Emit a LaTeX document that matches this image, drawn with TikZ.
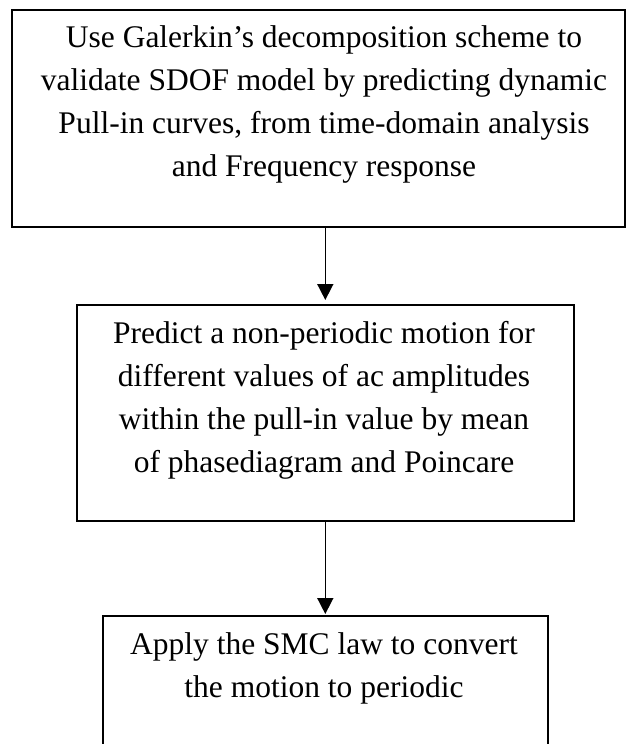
\documentclass[tikz,border=0pt]{standalone}
\usepackage{fontspec}
\setmainfont{Liberation Serif}
\usetikzlibrary{arrows.meta}
\begin{document}
\begin{tikzpicture}[x=1pt,y=-1pt,
  boxstyle/.style={draw,line width=1.6pt,inner sep=0pt,anchor=north west},
  txt/.style={anchor=base,align=center,inner sep=0pt,font=\fontsize{31.5}{43}\selectfont},
  conn/.style={line width=1.6pt,-{Triangle[length=16pt,width=16pt]}}]
\useasboundingbox (0,0) rectangle (627,744);
\clip (0,0) rectangle (627,744);
\node[boxstyle,minimum width=613pt,minimum height=217pt] (b1) at (11,9) {};
\node[boxstyle,minimum width=497pt,minimum height=216pt] (b2) at (76,304) {};
\node[boxstyle,minimum width=445pt,minimum height=140pt] (b3) at (102,615) {};
\node[txt] (t1) at (324,176) {Use Galerkin’s decomposition scheme to\\validate SDOF model by predicting dynamic\\Pull-in curves, from time-domain analysis\\and Frequency response};
\node[txt] (t2) at (324,472) {Predict a non-periodic motion for\\different values of ac amplitudes\\within the pull-in value by mean\\of phasediagram and Poincare};
\node[txt] (t3) at (324,697) {Apply the SMC law to convert\\the motion to periodic};
\draw[conn,shorten >=4pt] (b2.north |- b1.south) -- (b2.north);
\draw[conn,shorten >=1pt] (b2.south) -- (b3.north -| b2.south);
\end{tikzpicture}
\end{document}
